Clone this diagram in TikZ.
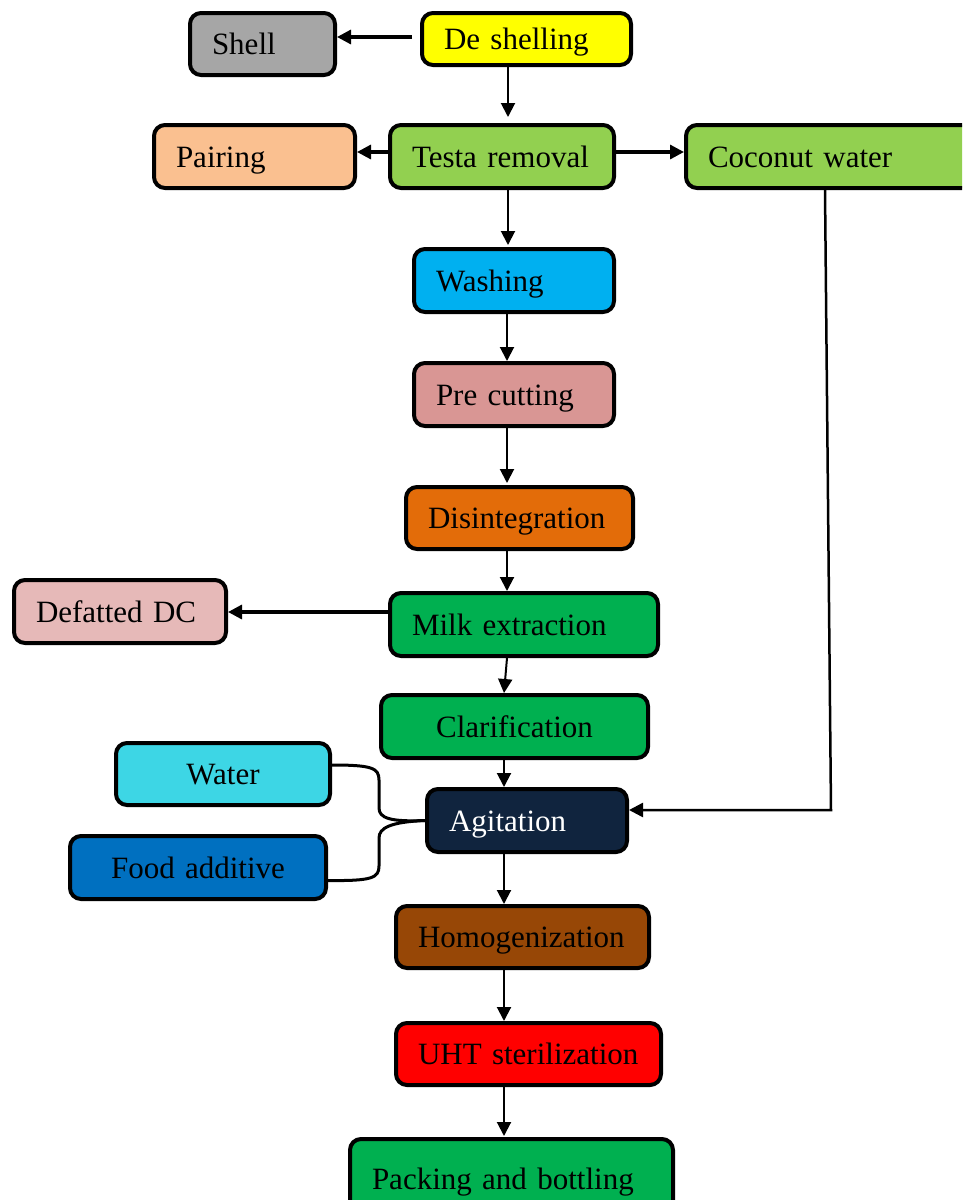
\documentclass[tikz,border=0pt]{standalone}
\usepackage{fontspec}
\setmainfont{Liberation Serif}
\usetikzlibrary{arrows.meta}
\definecolor{cShell}{HTML}{A6A6A6}
\definecolor{cDesh}{HTML}{FFFF00}
\definecolor{cPair}{HTML}{FAC090}
\definecolor{cLime}{HTML}{92D050}
\definecolor{cWash}{HTML}{00B0F0}
\definecolor{cPre}{HTML}{D99694}
\definecolor{cDis}{HTML}{E36C09}
\definecolor{cGreen}{HTML}{00B050}
\definecolor{cDef}{HTML}{E6B9B8}
\definecolor{cAgit}{HTML}{10243E}
\definecolor{cWater}{HTML}{3DD6E5}
\definecolor{cFood}{HTML}{0070C0}
\definecolor{cHomog}{HTML}{974706}
\definecolor{cUHT}{HTML}{FF0000}
\newcommand\boxfont{\fontsize{31}{35}\selectfont}
\begin{document}
\begin{tikzpicture}[x=1pt,y=-1pt,
  box/.style={draw=black, line width=4pt, rounded corners=11pt, anchor=north west,
    inner xsep=22pt, inner ysep=0pt, align=left, font=\boxfont,
    text height=21pt, text depth=0pt},
  cbox/.style={box, align=center},
  arr/.style={line width=2pt, -{Triangle[length=14pt,width=14pt]}},
  arrh/.style={line width=3.2pt, -{Triangle[length=14pt,width=14pt]}},
  brace/.style={line width=3pt}]
\useasboundingbox (0,0) rectangle (962,1200);
\fill[white] (0,0) rectangle (962,1200);
\clip (0,0) rectangle (962,1200);

\node[box, fill=cShell, text width=101pt, minimum height=62pt] (shell) at (188,11) {Shell};
\node[box, fill=cDesh, text width=165pt, minimum height=52pt] (desh) at (420,11) {De shelling};
\node[box, fill=cPair, text width=157pt, minimum height=63pt] (pair) at (152,123) {Pairing};
\node[box, fill=cLime, text width=180pt, minimum height=63pt] (testa) at (388,123) {Testa removal};
\node[box, fill=cLime, text width=272pt, minimum height=63pt] (coco) at (684,123) {Coconut water};
\node[box, fill=cWash, text width=156pt, minimum height=63pt] (wash) at (412,247) {Washing};
\node[box, fill=cPre, text width=156pt, minimum height=63pt] (precut) at (412,361) {Pre cutting};
\node[box, fill=cDis, text width=183pt, minimum height=62pt] (disint) at (404,485) {Disintegration};
\node[box, fill=cGreen, text width=224pt, minimum height=63pt] (milk) at (388,591) {Milk extraction};
\node[box, fill=cDef, text width=168pt, minimum height=63pt] (defat) at (12,578) {Defatted DC};
\node[cbox, fill=cGreen, text width=223pt, minimum height=63pt] (clar) at (379,693) {Clarification};
\node[box, fill=cAgit, text=white, text width=156pt, minimum height=63pt] (agit) at (425,787) {Agitation};
\node[cbox, fill=cWater, text width=170pt, minimum height=62pt] (water) at (114,741) {Water};
\node[cbox, fill=cFood, text width=212pt, minimum height=63pt] (food) at (68,834) {Food additive};
\node[box, fill=cHomog, text width=209pt, minimum height=62pt] (homog) at (394,904) {Homogenization};
\node[box, fill=cUHT, text width=221pt, minimum height=62pt] (uht) at (394,1021) {UHT sterilization};
\node[box, fill=cGreen, text width=279pt, minimum height=80pt] (pack) at (348,1137) {Packing and bottling};

\draw[arrh, shorten <=8pt] (desh.west |- 0,37) -- (shell.east |- 0,37);
\draw[arr, shorten >=6pt] (desh.south -| 508,0) -- (testa.north -| 508,0);
\draw[arrh] (testa.west |- 0,152) -- (pair.east |- 0,152);
\draw[arrh] (testa.east |- 0,152) -- (coco.west |- 0,152);
\draw[arr, shorten >=2pt] (testa.south -| 508,0) -- (wash.north -| 508,0);
\draw[arr] (wash.south -| 507,0) -- (precut.north -| 507,0);
\draw[arr, shorten >=2pt] (precut.south -| 507,0) -- (disint.north -| 507,0);
\draw[arr] (disint.south -| 507,0) -- (milk.north -| 507,0);
\draw[arrh] (milk.west |- 0,612) -- (defat.east |- 0,612);
\draw[arr] (milk.south -| 507,0) -- (clar.north -| 504,0);
\draw[arr] (clar.south -| 504,0) -- (agit.north -| 504,0);
\coordinate (cw) at (831,810);
\draw[line width=2.5pt, -{Triangle[length=14pt,width=14pt]}] (coco.south -| 825,0) -- (cw) -- (cw -| agit.east);
\draw[arr] (agit.south -| 504,0) -- (homog.north -| 504,0);
\draw[arr] (homog.south -| 504,0) -- (uht.north -| 504,0);
\draw[arr, shorten >=1pt] (uht.south -| 504,0) -- (pack.north -| 504,0);

\draw[brace] ([yshift=9pt]water.east) .. controls (372,765) and (379,768) .. (379,780)
  -- (379,808) .. controls (379,818) and (390,822) .. (agit.west);
\draw[brace] ([yshift=-13pt]food.east) .. controls (372,881) and (379,878) .. (379,866)
  -- (379,838) .. controls (379,828) and (390,822) .. (agit.west);
\end{tikzpicture}
\end{document}
